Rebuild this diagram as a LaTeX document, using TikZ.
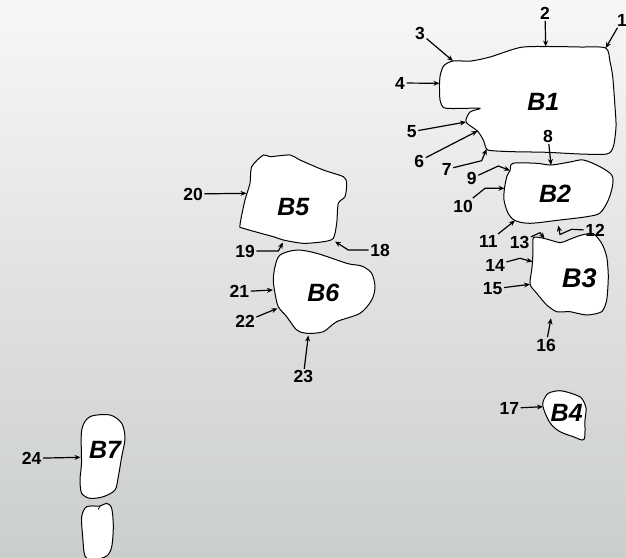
\documentclass[tikz,border=0pt]{standalone}
\usepackage{fontspec}
\setmainfont{Liberation Sans}
\usetikzlibrary{arrows.meta}
\definecolor{bgtop}{RGB}{247,247,247}
\definecolor{bgmid}{RGB}{234,236,235}
\definecolor{bgbot}{RGB}{202,206,204}
\tikzstyle{num} = [font=\fontsize{17.5}{19}\selectfont\bfseries, inner sep=1.5pt]
\tikzstyle{blk} = [font=\fontsize{25}{27}\selectfont\bfseries\itshape, inner sep=0pt]
\tikzstyle{outline} = [draw=black, fill=white, line width=1pt]
\tikzstyle{arrow} = [line width=1.2pt,->,>={Stealth[length=6pt,width=5pt]}]

\begin{document}
\begin{tikzpicture}[x=1pt,y=-1pt]
\useasboundingbox (0,0) rectangle (626,557);
\shade[top color=bgtop, middle color=bgmid, bottom color=bgbot] (0,0) rectangle (626,557);

% points on the outlines
\coordinate (p1) at (605.7,48);
\coordinate (p2) at (545.7,46.5);
\coordinate (p3) at (453,61);
\coordinate (p4) at (439.5,83.3);
\coordinate (p5) at (466,122);
\coordinate (p6) at (477.5,131);
\coordinate (p7) at (486.5,149);
\coordinate (p8) at (551,165);
\coordinate (p9) at (510,170.5);
\coordinate (p10) at (504.5,188.3);
\coordinate (p11) at (515,220.5);
\coordinate (p12) at (558.3,225.5);
\coordinate (p13) at (544.5,238.5);
\coordinate (p14) at (532.5,261.7);
\coordinate (p15) at (530,284.3);
\coordinate (p16) at (551,318.3);
\coordinate (p17) at (543,406.7);
\coordinate (p18) at (335,241.5);
\coordinate (p19) at (283,242.5);
\coordinate (p20) at (246.5,193.3);
\coordinate (p21) at (273,290);
\coordinate (p22) at (277.5,308.3);
\coordinate (p23) at (308.3,335.5);
\coordinate (p24) at (80.5,457.3);

% bones
\draw[outline] plot[smooth cycle, tension=0.45] coordinates {(p1) (580,47) (p2) (520,47.5) (490,57) (471,61) (p3) (444,65.5) (440.5,74) (p4) (440,100) (443.5,107.5) (452,108.5) (480,108.3) (470,112) (p5) (p6) (483.3,140) (p7) (492,150.7) (513.3,151.7) (546.7,152.3) (580,154) (606.7,154) (613.3,146.7) (616,126.7) (615,106.7) (612.7,76.7) (610,61.7)};
\draw[outline] plot[smooth cycle, tension=0.5] coordinates {(513,163.3) (536.7,163.3) (p8) (570,162) (583.3,160) (600,166.7) (611.7,175) (612.7,185) (608.3,200) (600,213) (586.7,216.7) (560,220) (530,223.3) (p11) (508,213) (504,200) (p10) (507,176) (p9)};
\draw[outline] plot[smooth cycle, tension=0.4] coordinates {(533.5,237.5) (p13) (560,242.7) (568,240) (580,235.5) (593,233.5) (601.7,243.3) (606.7,256.7) (608.3,276.7) (606.7,300) (601.7,311.7) (586.7,315) (570,311.7) (556.7,311.7) (546.7,305) (536.7,293.3) (p15) (531.7,270) (p14) (533,250)};
\draw[outline] plot[smooth cycle, tension=0.5] coordinates {(548.3,393.3) (560,390.7) (573.3,394) (581.7,398.3) (586,408.3) (585,420) (584,439.3) (573.3,436.7) (560,431.7) (551.7,425) (546.7,416.7) (p17) (543.3,401)};
\draw[outline] plot[smooth cycle, tension=0.45] coordinates {(263.3,155) (270,156.7) (290,155) (300,160) (323.3,170) (343.3,176.7) (346.7,183.3) (345,196.7) (338.3,203.3) (336.7,223.3) (333.3,238.3) (323.3,241.7) (303.3,243.3) (283.3,240) (273.3,236.7) (243.3,228.3) (240,225) (245,200) (250,183.3) (251.7,166.7)};
\draw[outline] plot[smooth cycle, tension=0.5] coordinates {(280,255) (296.7,250) (316.7,253.3) (346.7,263.3) (356.7,265) (363.3,266.7) (371.7,273.3) (375,286.7) (371.7,300) (360,313.3) (336.7,321.7) (323.3,331.7) (306.7,333.3) (296.7,330) (286.7,316.7) (278.3,306.7) (275,293.3) (273.3,280) (275,266.7)};
\draw[outline] plot[smooth cycle, tension=0.5] coordinates {(90,416.7) (110,415) (121.7,423.3) (125,438.3) (121.7,456.7) (118.3,476.7) (115,490) (103.3,496.7) (90,498.3) (81.7,493.3) (80,480) (81.5,463.3) (81.7,430)};
\draw[outline] plot[smooth cycle, tension=0.5] coordinates {(86.7,506.7) (100,506) (106.7,503.3) (111.7,508.3) (113.3,526.7) (111.7,546.7) (106.7,556) (93.3,560) (85,556) (82.7,536.7) (81.7,516.7)};
\draw[line width=0.8pt] (100,506) -- (98.3,509.5);

% bone names
\node (b1) [blk] at (543.3,101.7) {B1};
\node (b2) [blk] at (555,193.3) {B2};
\node (b3) [blk,font=\fontsize{27}{29}\selectfont\bfseries\itshape] at (579.3,278.3) {B3};
\node (b4) [blk] at (566.7,413.3) {B4};
\node (b5) [blk] at (293.3,206.7) {B5};
\node (b6) [blk] at (323.3,293.3) {B6};
\node (b7) [blk] at (105,450) {B7};

% numbers
\node (n1) [num] at (622,20) {1};
\node (n2) [num] at (545,13) {2};
\node (n3) [num] at (420,33) {3};
\node (n4) [num] at (400,83) {4};
\node (n5) [num] at (411.7,131.7) {5};
\node (n6) [num] at (419.3,161) {6};
\node (n7) [num] at (446.7,169.3) {7};
\node (n8) [num] at (548,136) {8};
\node (n9) [num] at (471.7,178.3) {9};
\node (n10) [num] at (463,206) {10};
\node (n11) [num] at (488.3,241.7) {11};
\node (n12) [num] at (595,230.5) {12};
\node (n13) [num] at (519.5,242) {13};
\node (n14) [num] at (495,265) {14};
\node (n15) [num] at (492.7,289) {15};
\node (n16) [num] at (546,345) {16};
\node (n17) [num] at (509.3,408.3) {17};
\node (n18) [num] at (380,250) {18};
\node (n19) [num] at (245,251) {19};
\node (n20) [num] at (193,194) {20};
\node (n21) [num] at (239.3,291.7) {21};
\node (n22) [num] at (245,321.7) {22};
\node (n23) [num] at (303.3,376.7) {23};
\node (n24) [num] at (31.7,458.3) {24};

% arrows
\draw [arrow] (n1) -- (p1);
\draw [arrow] (n2) -- (p2);
\draw [arrow] (n3) -- (p3);
\draw [arrow] (n4) -- (p4);
\draw [arrow] (n5) -- (p5);
\draw [arrow] (n6) -- (p6);
\draw [arrow] (n7) -- (481.7,160.7) -- (p7);
\draw [arrow] (n8) -- (p8);
\draw [arrow] (n9) -- (498.3,166) -- (p9);
\draw [arrow] (n10) -- (485,188.3) -- (p10);
\draw [arrow] (n11) -- (p11);
\draw [arrow] (n12) -- (571.7,229.3) -- (560,234.5) -- (p12);
\draw [arrow] (n13) -- (540,232.7) -- (p13);
\draw [arrow] (n14) -- (520,258.3) -- (p14);
\draw [arrow] (n15) -- (p15);
\draw [arrow] (n16) -- (p16);
\draw [arrow] (n17) -- (p17);
\draw [arrow] (n18) -- (348.3,250) -- (p18);
\draw [arrow] (n19) -- (278.3,251) -- (p19);
\draw [arrow] (n20) -- (p20);
\draw [arrow] (n21) -- (p21);
\draw [arrow] (n22) -- (p22);
\draw [arrow] (n23) -- (p23);
\draw [arrow] (n24) -- (p24);
\end{tikzpicture}
\end{document}
